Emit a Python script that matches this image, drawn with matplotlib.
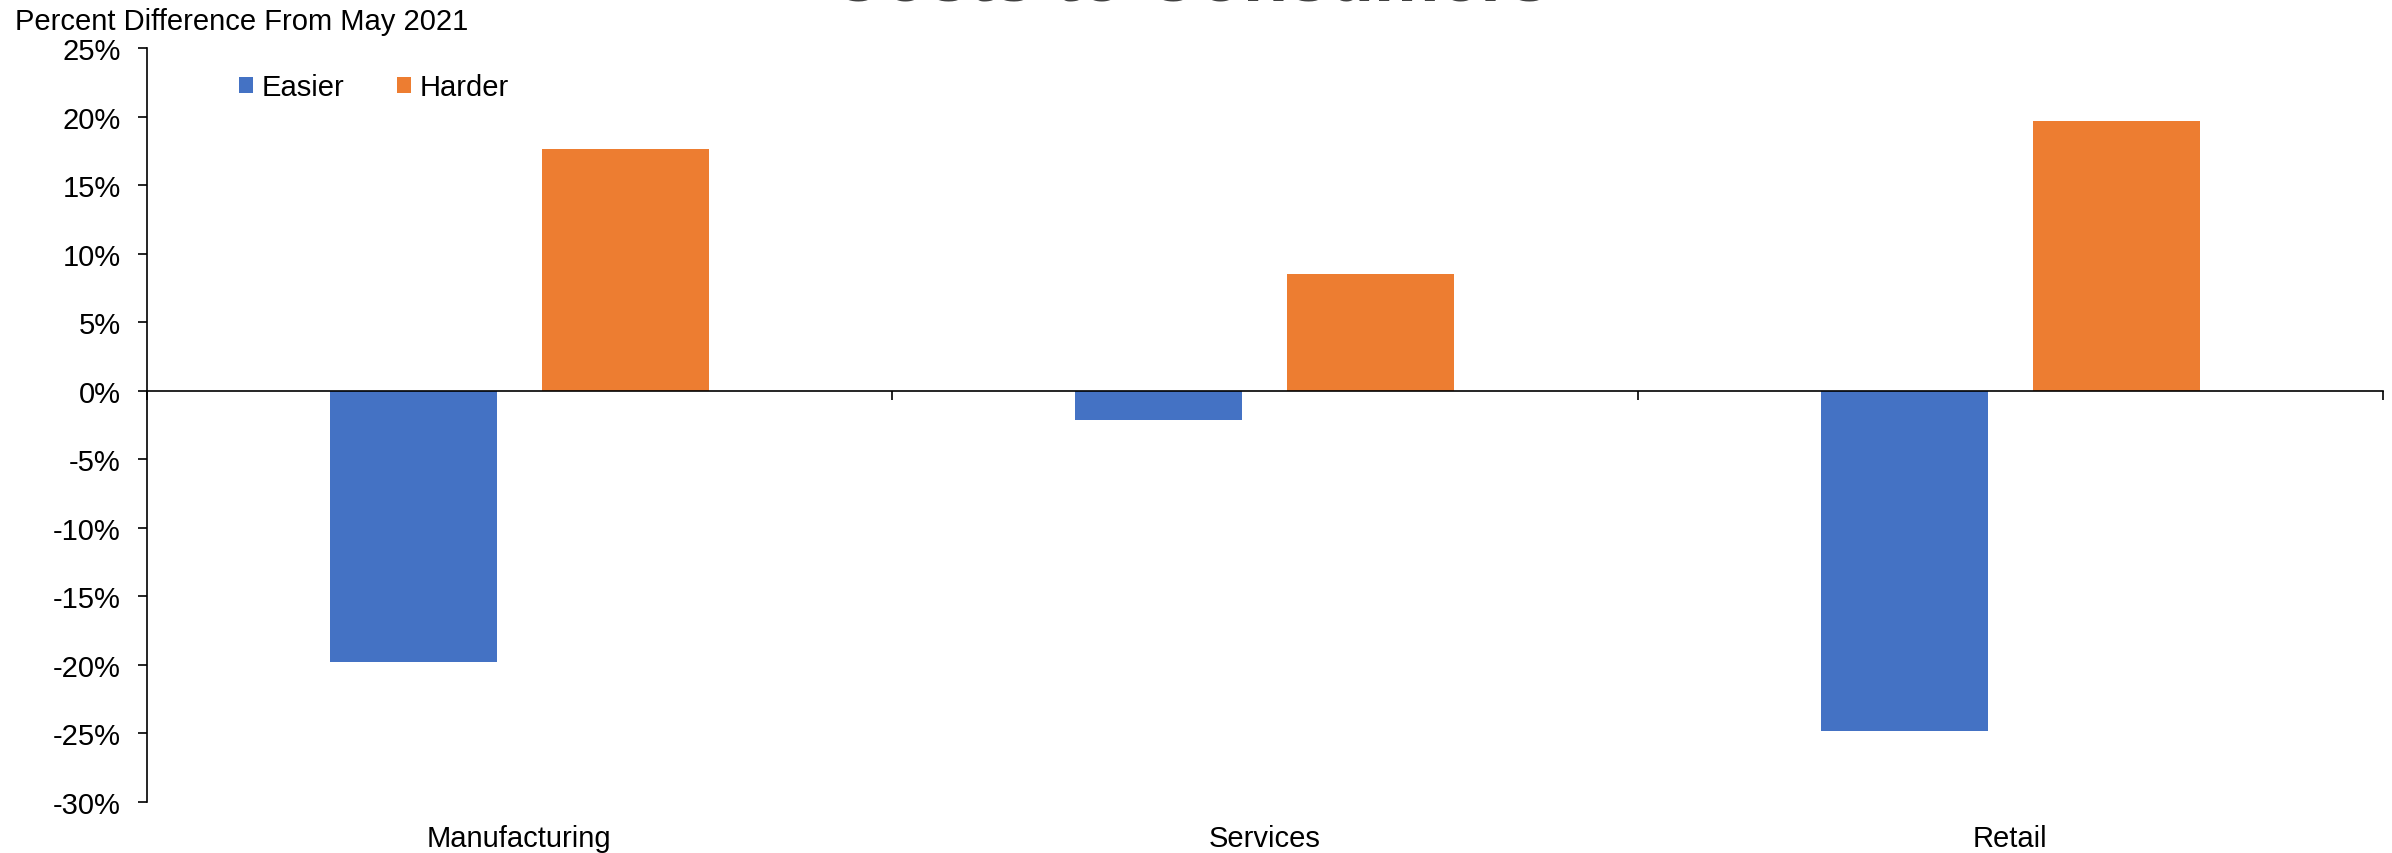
import matplotlib.pyplot as plt
import matplotlib.transforms as mtransforms
import numpy as np

plt.rcParams['font.family'] = ['Liberation Sans', 'DejaVu Sans']

categories = ["Manufacturing", "Services", "Retail"]
easier = [-19.8, -2.1, -24.8]
harder = [17.6, 8.5, 19.7]
y_ticks = [25, 20, 15, 10, 5, 0, -5, -10, -15, -20, -25, -30]

BLUE = "#4472C4"
ORANGE = "#ED7D31"

fig = plt.figure(figsize=(23.92, 8.54), dpi=100)
ax = fig.add_axes([0.06125, 0.0597, 0.93499, 0.88292])

x = np.arange(len(categories))
bar_w = 0.224
offset = 0.142
ax.bar(x - offset, easier, bar_w, color=BLUE, label="Easier", zorder=2)
ax.bar(x + offset, harder, bar_w, color=ORANGE, label="Harder", zorder=2)

ax.set_xlim(-0.5, len(categories) - 0.5)
ax.set_ylim(-30, 25)
ax.set_yticks(y_ticks)
ax.set_yticklabels([f"{t}%" for t in y_ticks])

# category boundaries as ticks on the zero line, names along the bottom
ax.set_xticks(np.arange(-0.5, len(categories), 1.0))
ax.set_xticklabels([])
ax.spines['bottom'].set_position(('data', 0))
ax.spines['bottom'].set_zorder(3)
for side in ('top', 'right'):
    ax.spines[side].set_visible(False)
for side in ('left', 'bottom'):
    ax.spines[side].set_linewidth(1.2)
    ax.spines[side].set_color('black')

ax.tick_params(axis='both', direction='out', length=6.5, width=1.2, colors='black',
               labelsize=21, pad=12)

trans = mtransforms.blended_transform_factory(ax.transData, fig.transFigure)
for xi, name in zip(x, categories):
    ax.text(xi, 1 - 847 / 854, name, transform=trans, ha='center', va='baseline',
            fontsize=21, color='black')

fig.text(15 / 2392, 1 - 30 / 854, "Percent Difference From May 2021", ha='left',
         va='baseline', fontsize=21, color='black')

# chart title sits mostly above the top edge of the canvas
fig.text(0.4975, 1 - 0.5 / 854, "Costs to Consumers", ha='center', va='baseline',
         fontsize=53, fontweight='bold', color='#404040')

ax.legend(loc='center left', bbox_to_anchor=(239 / 2392, 1 - 88 / 854),
          bbox_transform=fig.transFigure, ncol=2, frameon=False, fontsize=21,
          handlelength=0.48, handleheight=0.48, handletextpad=0.3,
          columnspacing=1.8, borderpad=0, borderaxespad=0)

fig.savefig("out.png", dpi=100, facecolor='white')
